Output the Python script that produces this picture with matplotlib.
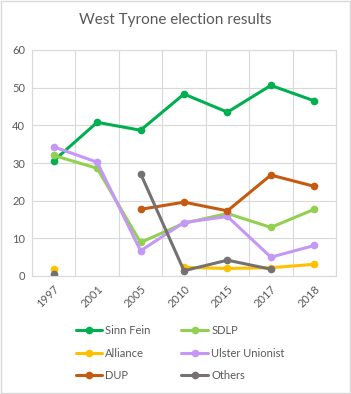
import numpy as np
import matplotlib
matplotlib.use("Agg")
from matplotlib import pyplot as plt

plt.rcParams['font.family'] = ['Lato', 'DejaVu Sans']

years = ['1997', '2001', '2005', '2010', '2015', '2017', '2018']
nan = np.nan
sinn_fein = [30.6, 40.8, 38.7, 48.3, 43.5, 50.6, 46.5]
sdlp = [32.0, 28.6, 8.9, 14.0, 16.6, 12.9, 17.7]
alliance = [1.8, nan, nan, 2.3, 2.0, 2.2, 3.1]
ulster_unionist = [34.3, 30.2, 6.7, 14.2, 15.8, 5.0, 8.1]
dup = [nan, nan, 17.7, 19.6, 17.3, 26.8, 23.8]
others = [0.5, nan, 27.2, 1.4, 4.2, 1.8, nan]

series = [
    ('Sinn Fein', sinn_fein, '#00B050'),
    ('SDLP', sdlp, '#92D050'),
    ('Alliance', alliance, '#FFC000'),
    ('Ulster Unionist', ulster_unionist, '#C597F7'),
    ('DUP', dup, '#C55A11'),
    ('Others', others, '#767171'),
]

fig = plt.figure(figsize=(3.51, 3.94), dpi=100)
ax = fig.add_axes([32/351, (394-276)/394, (336-32)/351, (276-50)/394])

x = np.arange(len(years))
handles = []
for name, vals, col in series:
    h, = ax.plot(x, vals, color=col, lw=2.2, marker='o', ms=4.5, label=name,
                 solid_capstyle='round')
    handles.append(h)

ax.set_xlim(-0.5, len(years) - 0.5)
ax.set_ylim(0, 60)
ax.set_yticks(range(0, 61, 10))
ax.set_xticks(x)
ax.set_xticklabels(years, rotation=45, ha='right', rotation_mode='anchor')
# gridlines sit between the categories, like Excel
ax.set_xticks(np.arange(-0.5, len(years), 1), minor=True)
ax.grid(True, which='minor', axis='x', color='#D9D9D9', lw=0.8)
ax.grid(True, which='major', axis='y', color='#D9D9D9', lw=0.8)
ax.set_axisbelow(True)
ax.tick_params(which='both', length=0, labelsize=8, colors='#595959', pad=5)
for s in ax.spines.values():
    s.set_color('#D9D9D9')
    s.set_linewidth(0.8)

fig.text(0.5, 0.948, 'West Tyrone election results', ha='center', va='center',
         fontsize=11, color='#595959')

# legend reads row by row in the reference, matplotlib fills columns
order = [0, 2, 4, 1, 3, 5]
fig.legend([handles[i] for i in order], [series[i][0] for i in order],
           loc='center', bbox_to_anchor=(0.513, 0.104), ncol=2, frameon=False,
           fontsize=8, labelcolor='#595959', handlelength=2.4,
           handletextpad=0.27, columnspacing=2.77, labelspacing=1.05)

fig.patches.append(plt.Rectangle((0.002, 0.002), 0.995, 0.995, transform=fig.transFigure,
                                 fill=False, ec='#D9D9D9', lw=1))

fig.savefig('out.png', dpi=100)
